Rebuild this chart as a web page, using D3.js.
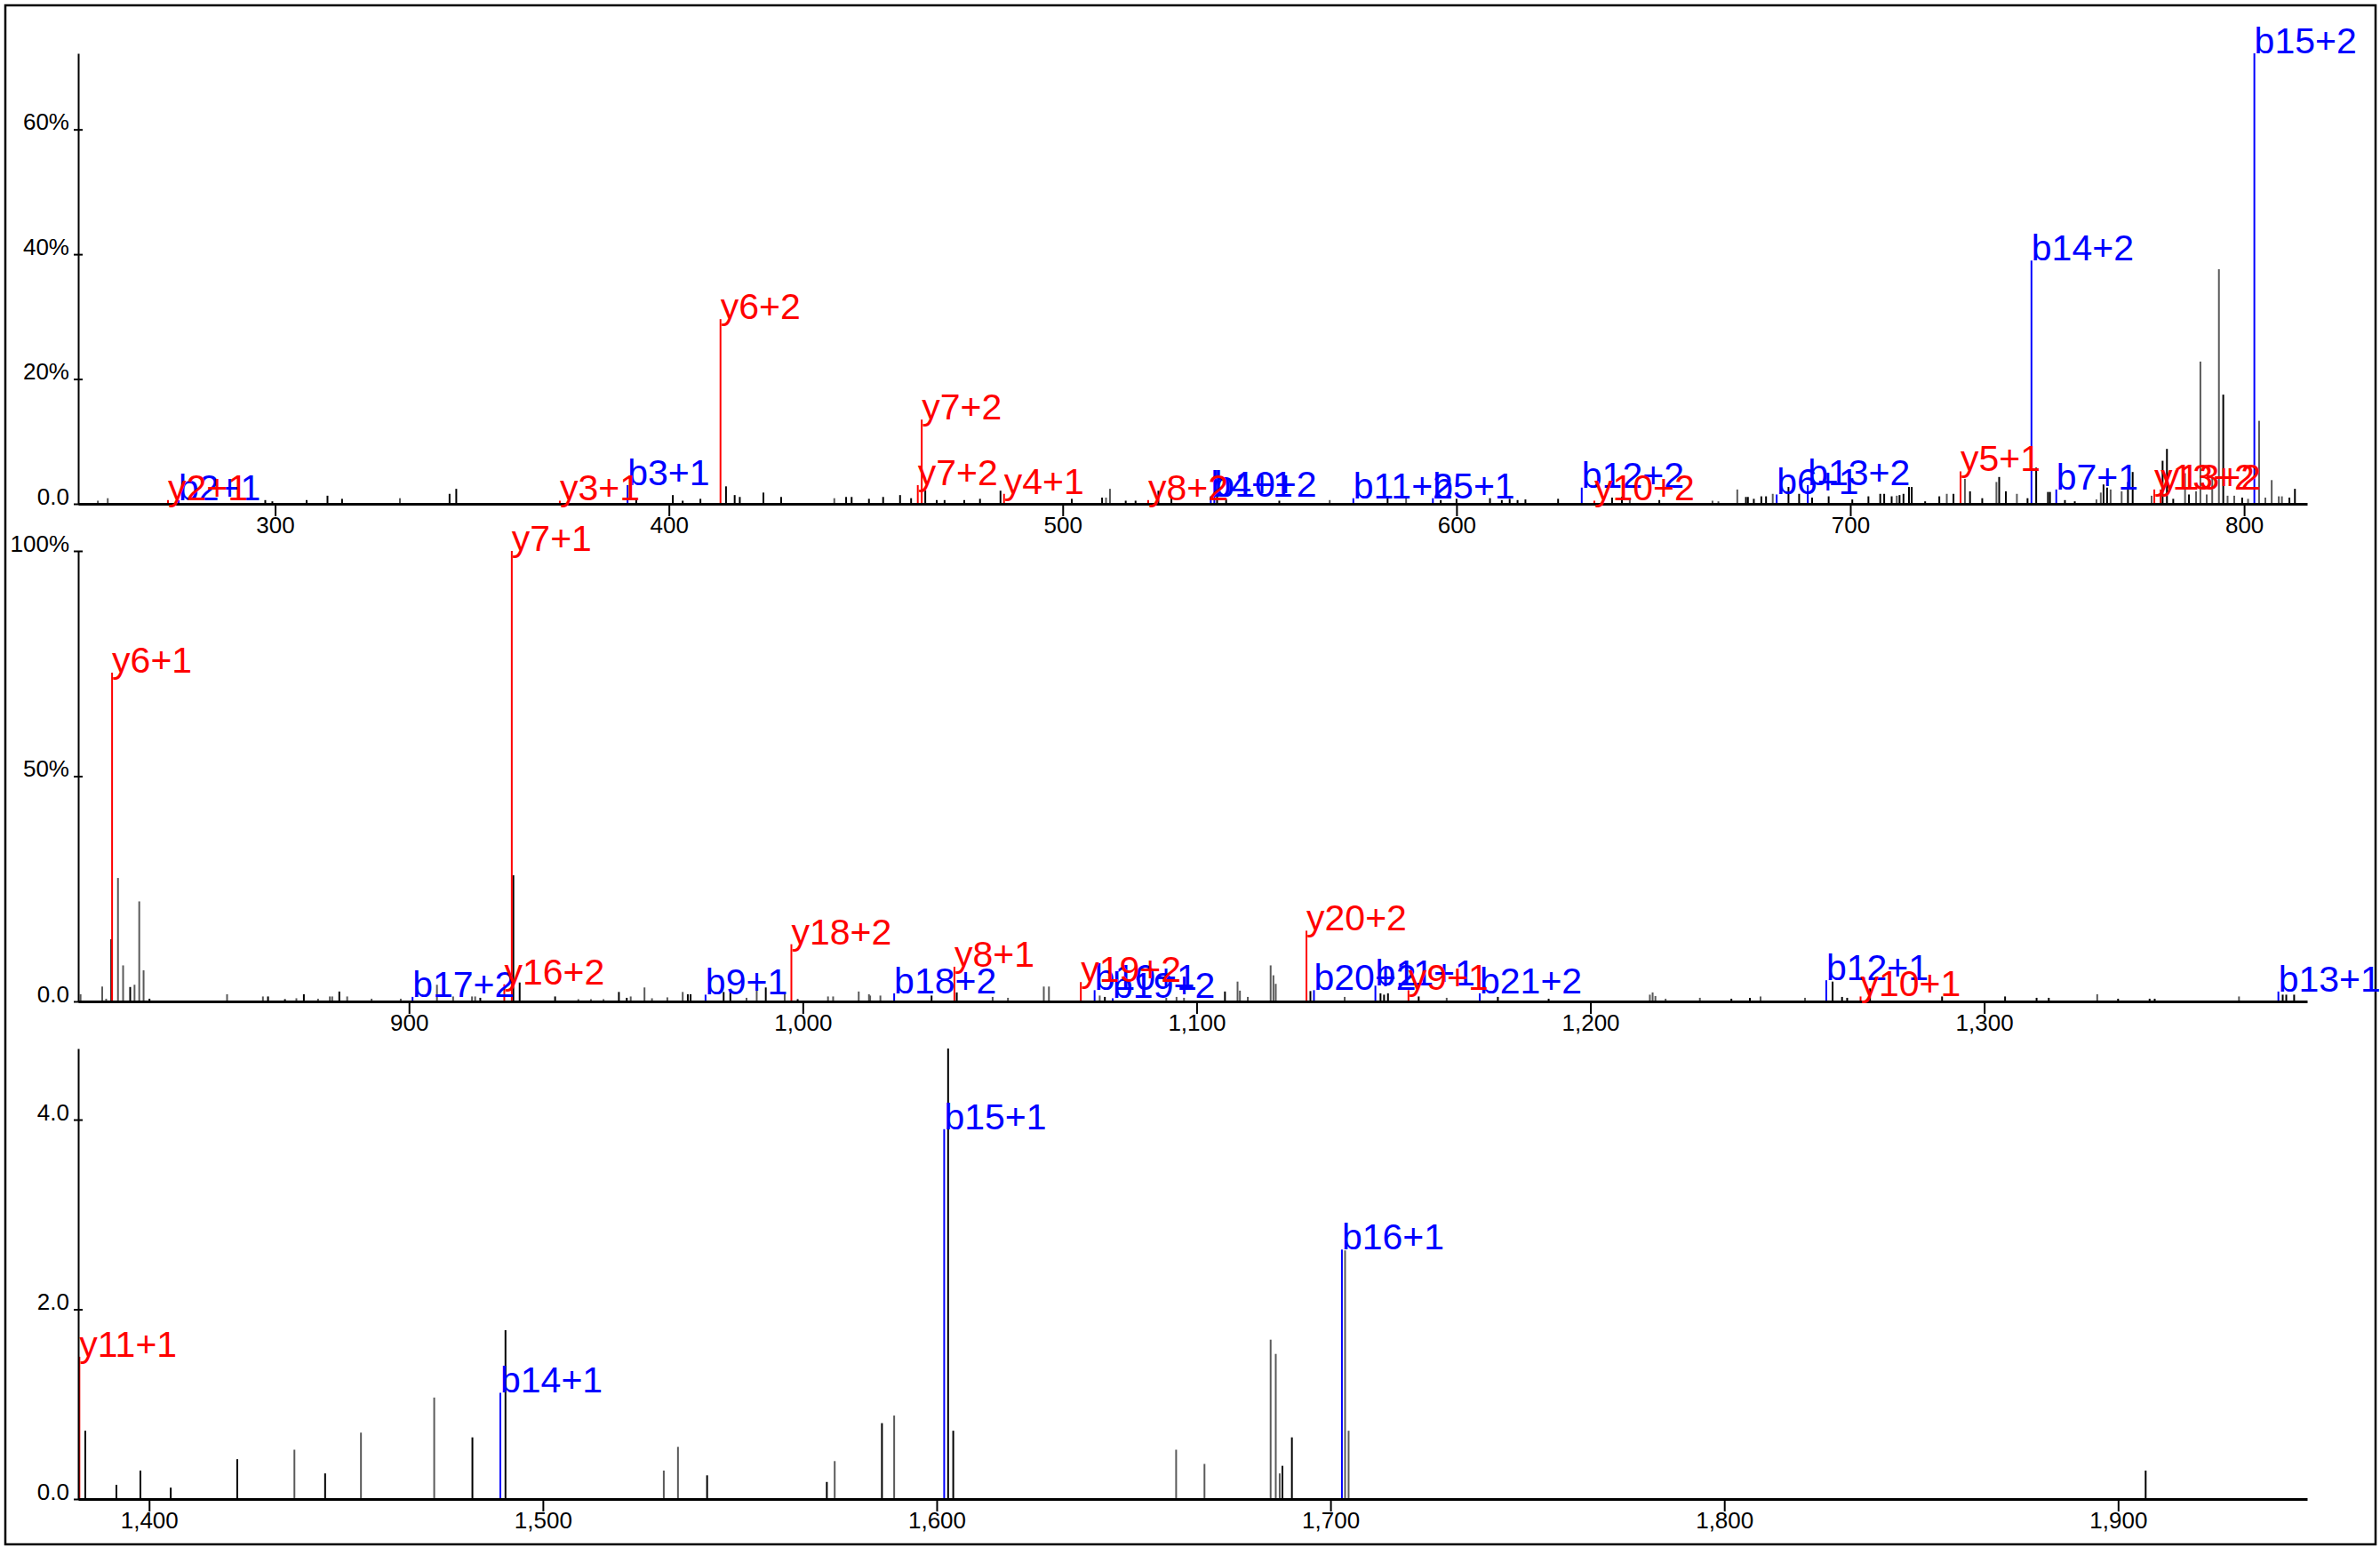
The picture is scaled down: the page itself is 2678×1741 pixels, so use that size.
<!DOCTYPE html>
<html lang="en">
<head>
    <meta charset="UTF-8">
    <title>Spectrum</title>
    <script src="https://cdn.jsdelivr.net/npm/d3@7"></script>
    <style>
        body { margin: 0; background: #fff; }
        svg { display: block; font-family: "Liberation Sans", Arial, sans-serif; }
    </style>
</head>
<body>
    <div class="container"></div>
    <script>
        // m/z range of each of the 3 stacked panels
        const panelStarts = [250, 816, 1382];
        const panelSpan = 566;

        const xTicks = [
            [300, 400, 500, 600, 700, 800],
            [900, 1000, 1100, 1200, 1300],
            [1400, 1500, 1600, 1700, 1800, 1900]
        ];
        const yTicks = [[0, 20, 40, 60], [0, 50, 100], [0, 2, 4]];
        const yTickLabels = [["0.0", "20%", "40%", "60%"], ["0.0", "50%", "100%"], ["0.0", "2.0", "4.0"]];

        // annotated fragment ions (b = blue, y = red)
        const ionNames = [
            "y2+1", "b2+1", "y3+1", "b3+1", "y6+2", "y7+2", "y7+2", "y4+1", "y8+2", "b4+1", "b10+2",
            "b11+2", "b5+1", "b12+2", "y10+2", "b6+1", "b13+2", "y5+1", "b14+2", "b7+1", "y13+2", "y13+2", "b15+2",
            "y6+1", "b17+2", "y16+2", "y7+1", "b9+1", "y18+2", "b18+2", "y8+1", "y19+2", "b10+1", "b19+2",
            "y20+2", "b20+2", "b11+1", "y9+1", "b21+2", "b12+1", "y10+1", "b13+1",
            "y11+1", "b14+1", "b15+1", "b16+1"
        ];
        const ionMz = [
            272.8, 275.5, 372.3, 389.5, 413.1, 463.2, 464.2, 485.1, 521.7, 537.6, 538.5,
            573.8, 594.0, 631.8, 635.0, 681.3, 689.2, 728.0, 746.0, 752.3, 777.2, 778.8, 802.6,
            824.6, 900.9, 924.2, 926.1, 975.3, 997.1, 1023.2, 1038.5, 1070.6, 1074.1, 1078.7,
            1127.9, 1129.8, 1145.4, 1153.8, 1171.9, 1259.9, 1268.6, 1374.7,
            1382.3, 1489.2, 1601.9, 1702.9
        ];
        const ionIntensity = [
            0.6, 0.6, 0.5, 3.0, 29.6, 3.0, 13.5, 1.6, 0.6, 1.2, 1.2,
            0.9, 0.9, 2.6, 0.5, 1.5, 3.0, 5.2, 39.0, 2.3, 2.3, 2.3, 72.2,
            73.0, 1.0, 3.8, 100, 1.5, 12.7, 1.8, 7.7, 4.3, 2.5, 0.7,
            15.7, 2.5, 3.5, 2.5, 1.8, 4.7, 1.1, 2.2,
            1.5, 1.12, 3.9, 2.63
        ];

        // unassigned peaks, drawn black
        const blackMz = [
            297.5, 299.3, 308.0, 313.3, 317.0, 344.3, 346.0, 391.7, 401.0, 403.5, 408.0, 414.5, 416.7, 418.0,
            424.0, 428.5, 445.0, 446.4, 450.8, 454.4, 458.7, 461.5, 465.1, 468.0, 470.0, 475.0, 479.0, 484.2,
            502.3, 510.0, 516.0, 518.5, 524.3, 527.6, 539.2, 541.5, 555.0, 582.5, 596.0, 600.0, 608.5, 611.5,
            613.5, 615.5, 617.5, 625.8, 639.5, 642.0, 651.5, 673.5, 674.0, 675.5, 677.4, 678.6, 684.3, 687.0,
            690.3, 694.5, 700.5, 704.6, 707.6, 708.6, 710.5, 712.5, 713.5, 714.9, 715.6, 719.0, 722.6, 726.2,
            730.4, 733.5, 737.8, 739.5, 745.0, 747.2, 750.2, 750.7, 754.5, 757.0, 764.3, 765.2, 770.5, 771.7,
            779.3, 780.4, 782.0, 786.0, 794.7, 799.5, 811.5, 812.9,
            824.4, 829.2, 834.1, 864.2, 868.5, 873.3, 882.3, 918.1, 926.5, 928.1, 937.1, 953.3, 955.3, 970.8,
            971.5, 979.9, 981.6, 990.6, 998.7, 1032.7, 1039.1, 1076.7, 1107.2, 1128.9, 1146.7, 1147.6, 1148.6,
            1156.4, 1176.5, 1189.4, 1235.8, 1240.5, 1261.5, 1263.9, 1265.2, 1271.0, 1289.3, 1305.3, 1313.3,
            1316.4, 1334.0, 1342.0, 1343.3, 1375.8, 1376.7, 1378.7,
            1383.8, 1391.7, 1397.8, 1405.5, 1422.4, 1444.7, 1482.1, 1490.5, 1541.7, 1572.1, 1586.1, 1602.9,
            1604.2, 1687.8, 1690.2, 1907.0
        ];
        const blackIntensity = [
            0.6, 0.4, 0.6, 1.3, 0.8, 1.6, 2.4, 0.8, 1.4, 0.5, 0.8, 2.8, 1.4, 1.1,
            1.8, 1.1, 1.1, 1.1, 0.8, 1.1, 1.4, 0.9, 2.2, 0.6, 0.6, 0.6, 0.8, 2.1,
            0.8, 1.0, 0.5, 0.5, 2.1, 0.9, 1.9, 0.8, 0.5, 0.9, 0.6, 0.8, 0.9, 0.6,
            0.8, 0.6, 0.7, 0.8, 1.0, 1.1, 0.6, 1.1, 1.1, 0.8, 1.2, 1.2, 2.7, 1.6,
            1.0, 1.2, 0.7, 1.2, 1.6, 1.6, 1.2, 1.4, 1.6, 2.7, 2.7, 0.4, 1.2, 1.6,
            2.0, 0.9, 4.3, 2.0, 0.9, 5.8, 1.9, 1.9, 0.6, 0.4, 3.1, 2.6, 3.5, 5.1,
            6.9, 8.8, 0.8, 1.5, 17.5, 1.0, 1.0, 2.4,
            13.8, 3.2, 0.6, 1.1, 0.5, 1.6, 2.2, 0.8, 28.0, 4.2, 1.1, 2.1, 0.8, 1.6,
            1.6, 2.1, 2.4, 3.1, 0.5, 1.3, 2.0, 1.0, 2.2, 2.3, 1.8, 1.5, 1.8,
            1.1, 1.0, 0.6, 0.6, 0.8, 4.4, 1.0, 0.8, 2.9, 1.1, 1.1, 0.8,
            0.8, 0.6, 0.6, 0.6, 1.5, 1.5, 1.5,
            0.72, 0.15, 0.30, 0.12, 0.42, 0.27, 0.65, 1.78, 0.25, 0.18, 0.80, 4.75,
            0.72, 0.35, 0.65, 0.30
        ];

        // unassigned peaks, drawn grey
        const greyMz = [
            255.0, 257.5, 331.7, 442.0, 511.0, 512.0, 567.8, 587.2, 644.0, 665.0, 666.5, 671.3, 680.3, 711.8,
            724.5, 729.1, 737.1, 742.3, 762.5, 763.6, 766.1, 768.9, 776.5, 785.0, 787.8, 788.9, 790.5, 791.9,
            793.6, 795.8, 797.5, 801.0, 803.8, 805.4, 807.0, 808.8, 809.6,
            816.6, 822.1, 823.1, 826.1, 827.4, 830.3, 831.5, 832.6, 853.8, 862.9, 871.4, 876.9, 879.9, 880.5,
            884.3, 890.5, 897.9, 907.1, 911.2, 916.0, 916.8, 943.0, 946.2, 949.4, 956.3, 959.8, 961.7, 965.6,
            969.5, 985.7, 988.3, 995.4, 1006.4, 1007.7, 1014.2, 1016.8, 1017.1, 1019.7, 1048.2, 1052.1, 1061.2,
            1062.5, 1075.4, 1092.3, 1094.9, 1096.8, 1110.4, 1111.0, 1113.0, 1118.8, 1119.5, 1120.1, 1137.6,
            1163.5, 1215.1, 1215.8, 1216.5, 1219.1, 1227.8, 1243.2, 1254.5, 1328.7, 1364.7,
            1436.9, 1453.8, 1472.4, 1530.7, 1534.3, 1574.1, 1589.2, 1660.8, 1668.0, 1684.8, 1686.1, 1687.1,
            1703.7, 1704.6
        ];
        const greyIntensity = [
            0.5, 0.9, 0.9, 0.9, 1.0, 2.4, 0.6, 1.1, 1.0, 0.5, 0.4, 2.3, 1.6, 1.3,
            1.6, 4.0, 3.5, 1.6, 0.7, 1.8, 2.3, 2.0, 1.3, 4.9, 2.0, 22.8, 1.5, 4.4,
            37.6, 1.3, 1.3, 0.8, 13.3, 1.0, 3.8, 1.2, 1.2,
            1.6, 3.3, 0.6, 27.4, 8.0, 3.7, 22.2, 6.9, 1.6, 1.1, 0.7, 0.6, 1.1, 1.1,
            1.1, 0.6, 0.6, 3.7, 1.1, 1.1, 1.1, 0.5, 0.5, 0.5, 1.1, 3.1, 0.7, 0.9,
            2.1, 0.8, 3.1, 1.6, 1.1, 1.1, 2.2, 1.6, 1.3, 1.3, 1.0, 0.8, 3.3,
            3.3, 1.3, 0.8, 1.0, 0.8, 4.4, 2.4, 1.0, 8.0, 5.8, 3.9, 1.0,
            0.8, 1.5, 2.0, 1.2, 0.6, 0.8, 1.1, 0.8, 1.6, 1.1,
            0.52, 0.70, 1.07, 0.30, 0.55, 0.40, 0.88, 0.52, 0.37, 1.68, 1.53, 0.27,
            2.62, 0.72
        ];

        const width = 2678;
        const height = 1741;
        const marginLeft = 88;
        const plotRight = 2596;
        const panelTop = 60;      // top of the first y axis
        const panelStep = 560;    // vertical distance between panels
        const plotHeight = 507;

        const ions = ionNames.map((name, i) => ({ name, mz: ionMz[i], v: ionIntensity[i], color: name[0] === "b" ? "#0000ff" : "#ff0000" }));
        const blacks = blackMz.map((mz, i) => ({ mz, v: blackIntensity[i] }));
        const greys = greyMz.map((mz, i) => ({ mz, v: greyIntensity[i] }));

        const svg = d3.create("svg")
            .attr("width", width)
            .attr("height", height)
            .attr("viewBox", [0, 0, width, height]);

        // outer frame
        svg.append("rect")
            .attr("x", 6).attr("y", 6)
            .attr("width", width - 11).attr("height", height - 9)
            .attr("fill", "none")
            .attr("stroke", "#000")
            .attr("stroke-width", 2.5);

        panelStarts.forEach((start, k) => {
            const end = start + panelSpan;
            const inPanel = d => d.mz >= start && d.mz < end;
            const pIons = ions.filter(inPanel);
            const pBlack = blacks.filter(inPanel);
            const pGrey = greys.filter(inPanel);

            const yMax = d3.max([...pIons, ...pBlack, ...pGrey], d => d.v);
            const top = panelTop + k * panelStep;
            const base = top + plotHeight;

            const x = d3.scaleLinear().domain([start, end]).range([marginLeft, plotRight]);
            const y = d3.scaleLinear().domain([0, yMax]).range([base, top]);

            const g = svg.append("g");

            // peaks
            const drawSticks = (data, color) => g.append("g")
                .attr("stroke", color)
                .attr("stroke-width", 2)
                .selectAll("line")
                .data(data)
                .join("line")
                    .attr("x1", d => x(d.mz)).attr("x2", d => x(d.mz))
                    .attr("y1", y(0)).attr("y2", d => y(d.v));

            drawSticks(pGrey, "#5a5a5a");
            drawSticks(pBlack, "#000");

            g.append("g")
                .attr("stroke-width", 2)
                .selectAll("line")
                .data(pIons)
                .join("line")
                    .attr("stroke", d => d.color)
                    .attr("x1", d => x(d.mz)).attr("x2", d => x(d.mz))
                    .attr("y1", y(0)).attr("y2", d => y(d.v));

            // x axis
            g.append("g")
                .attr("transform", `translate(0,${base})`)
                .call(d3.axisBottom(x).tickValues(xTicks[k]).tickFormat(d3.format(",")).tickSize(14).tickSizeOuter(0))
                .call(a => a.select(".domain").attr("stroke-width", 3))
                .call(a => a.selectAll(".tick line").attr("stroke-width", 2))
                .call(a => a.selectAll(".tick text")
                    .attr("y", 33).attr("dy", 0)
                    .attr("font-size", 26)
                    .attr("font-family", "\"Liberation Sans\", Arial, sans-serif")
                    .attr("fill", "#000"));

            // y axis
            g.append("g")
                .attr("transform", `translate(${marginLeft},0)`)
                .call(d3.axisLeft(y).tickValues(yTicks[k]).tickFormat((d, i) => yTickLabels[k][i]).tickSize(5).tickSizeOuter(0))
                .call(a => a.select(".domain").attr("stroke-width", 2))
                .call(a => a.selectAll(".tick line").attr("x1", -5).attr("x2", 5).attr("stroke-width", 2))
                .call(a => a.selectAll(".tick text")
                    .attr("x", -10).attr("dy", 0)
                    .attr("font-size", 26)
                    .attr("font-family", "\"Liberation Sans\", Arial, sans-serif")
                    .attr("fill", "#000"));

            // ion labels, blue first so red ends up on top
            const sorted = pIons.slice().sort((a, b) => (a.color === b.color ? 0 : a.color === "#0000ff" ? -1 : 1));
            g.append("g")
                .attr("font-size", 41)
                .selectAll("text")
                .data(sorted)
                .join("text")
                    .attr("x", d => x(d.mz))
                    .attr("y", d => y(d.v))
                    .attr("fill", d => d.color)
                    .text(d => d.name);
        });

        document.querySelector(".container").appendChild(svg.node());
    </script>
</body>
</html>
